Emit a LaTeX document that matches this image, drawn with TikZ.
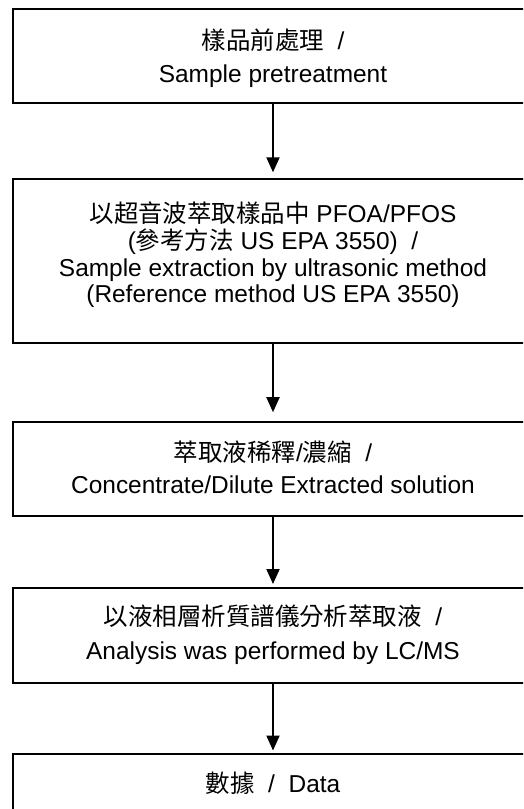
\documentclass[tikz,border=0pt]{standalone}
\usepackage{fontspec}
\setmainfont{Liberation Sans}
\newfontfamily\cjk{Noto Sans CJK TC}
\usetikzlibrary{arrows.meta}
\begin{document}
\begin{tikzpicture}[x=1pt,y=-1pt,
  box/.style={draw, line width=2pt, minimum width=521pt, inner sep=0pt},
  txt/.style={align=center, inner sep=0pt},
  arr/.style={line width=2pt, -{Triangle[width=13pt,length=15pt]}}]
\useasboundingbox (0,0) rectangle (523,809);
\clip (0,0) rectangle (523,809);
\node[box, minimum height=93.7pt] (b1) at (273,55.85) {};
\node[box, minimum height=164.3pt] (b2) at (273,261.15) {};
\node[box, minimum height=94pt] (b3) at (273,468.7) {};
\node[box, minimum height=94.7pt] (b4) at (273,635.35) {};
\node[box, minimum height=100pt] (b5) at (273,804) {};
\node[txt, font=\fontsize{24.45}{33}\selectfont] (t1) at (273,58.4)
  {{\cjk 樣品前處理}\ \ /\\Sample pretreatment};
\node[txt, font=\fontsize{24.45}{26.7}\selectfont] (t2) at (273,255)
  {{\cjk 以超音波萃取樣品中} PFOA/PFOS\\({\cjk 參考方法} US EPA 3550)\ \ /\\Sample extraction by ultrasonic method\\(Reference method US EPA 3550)};
\node[txt, font=\fontsize{24.45}{31.7}\selectfont] (t3) at (273,467.5)
  {{\cjk 萃取液稀釋}/{\cjk 濃縮}\ \ /\\Concentrate/Dilute Extracted solution};
\node[txt, font=\fontsize{24.45}{33.7}\selectfont] (t4) at (273,634.9)
  {{\cjk 以液相層析質譜儀分析萃取液}\ \ /\\Analysis was performed by LC/MS};
\node[txt, font=\fontsize{24.45}{30}\selectfont] (t5) at (273,783)
  {{\cjk 數據}\ \ /\ \ Data};
\draw[arr, shorten >=5.7pt] (b1.south) -- (b2.north);
\draw[arr, shorten >=8.5pt] (b2.south) -- (b3.north);
\draw[arr, shorten >=3pt] (b3.south) -- (b4.north);
\draw[arr, shorten >=2.5pt] (b4.south) -- (b5.north);
\end{tikzpicture}
\end{document}
